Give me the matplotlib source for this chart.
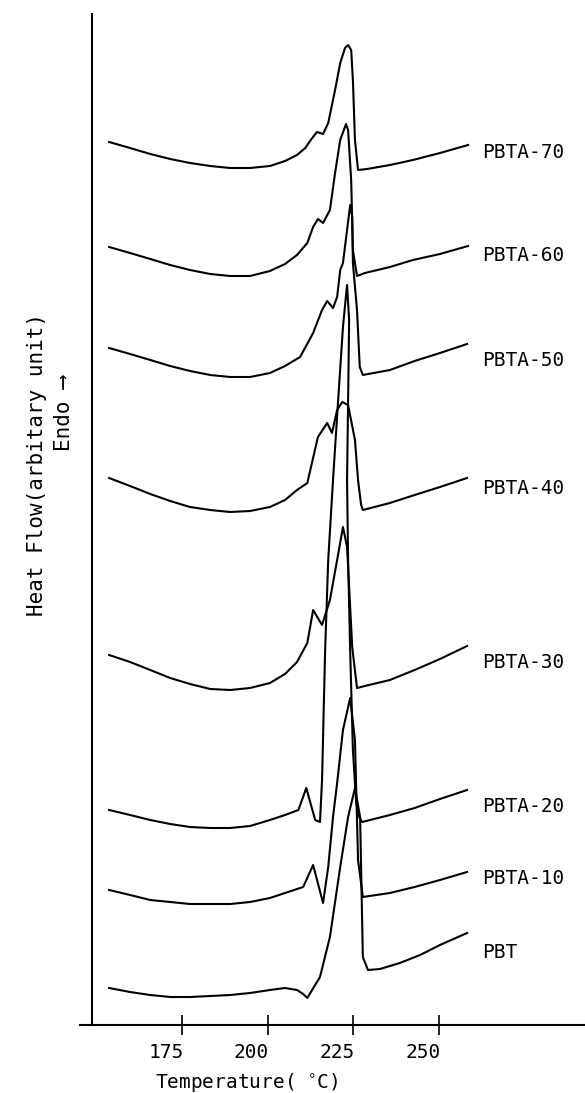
import matplotlib
matplotlib.use("Agg")
import matplotlib.pyplot as plt
import matplotlib.transforms as mtransforms

FONT = ['DejaVu Sans Mono', 'DejaVu Sans']
plt.rcParams['font.family'] = FONT

# ---- data (temperature in deg C, heat flow in arbitrary units, stacked) ----
names = ["PBTA-70", "PBTA-60", "PBTA-50", "PBTA-40", "PBTA-30", "PBTA-20", "PBTA-10", "PBT"]

t_70 = [153.8, 159.9, 165.8, 171.6, 177.4, 183.3, 189.1, 194.9, 200.7, 205.1, 208.6, 211.0, 212.4, 214.4, 216.2, 217.7, 219.7, 221.2, 222.6, 223.5, 224.4, 224.9, 225.5, 226.4, 229.0, 235.7, 242.4, 250.3, 258.5]
h_70 = [88.3, 87.7, 87.1, 86.6, 86.2, 85.9, 85.7, 85.7, 85.9, 86.4, 87.0, 87.7, 88.4, 89.3, 89.1, 90.2, 93.5, 96.2, 97.7, 98.0, 97.5, 94.5, 88.5, 85.5, 85.6, 86.0, 86.5, 87.2, 88.0]

t_60 = [153.8, 159.9, 165.8, 171.6, 177.4, 183.3, 189.1, 194.9, 200.7, 205.1, 208.6, 211.6, 213.3, 214.7, 216.2, 218.2, 219.7, 221.2, 222.9, 223.5, 224.4, 224.9, 226.1, 228.4, 235.7, 242.4, 250.3, 258.5]
h_60 = [77.8, 77.2, 76.6, 76.0, 75.5, 75.1, 74.9, 74.9, 75.4, 76.1, 77.0, 78.2, 79.8, 80.6, 80.2, 81.5, 85.2, 88.5, 90.1, 89.5, 84.5, 77.5, 74.9, 75.2, 75.8, 76.5, 77.1, 77.9]

t_50 = [153.8, 159.9, 165.8, 171.6, 177.4, 183.3, 189.1, 194.9, 200.7, 205.1, 209.5, 213.3, 215.9, 217.4, 219.1, 220.3, 221.2, 222.0, 223.2, 224.1, 224.7, 224.9, 226.1, 226.9, 227.8, 235.7, 242.9, 250.3, 258.2]
h_50 = [67.7, 67.1, 66.5, 65.9, 65.4, 65.0, 64.8, 64.8, 65.2, 65.9, 66.8, 69.2, 71.5, 72.4, 71.7, 72.8, 75.5, 76.2, 79.5, 82.0, 80.8, 76.2, 71.5, 65.8, 65.0, 65.5, 66.4, 67.2, 68.1]

t_40 = [153.8, 159.9, 165.8, 171.6, 177.4, 183.3, 189.1, 194.9, 200.7, 205.1, 208.6, 211.6, 214.7, 217.4, 218.8, 220.3, 221.8, 223.5, 225.5, 226.4, 227.3, 227.8, 235.7, 242.9, 250.3, 258.2]
h_40 = [54.7, 53.9, 53.1, 52.4, 51.8, 51.5, 51.3, 51.4, 51.8, 52.5, 53.5, 54.2, 58.8, 60.2, 59.2, 61.5, 62.3, 62.0, 58.5, 54.5, 52.0, 51.5, 52.2, 53.0, 53.8, 54.7]

t_30 = [153.8, 159.9, 165.8, 171.6, 177.4, 183.3, 189.1, 194.9, 200.7, 205.1, 208.6, 211.6, 213.3, 215.9, 218.2, 220.3, 222.0, 223.2, 224.7, 226.1, 228.4, 235.7, 242.9, 250.3, 258.2]
h_30 = [37.0, 36.3, 35.5, 34.7, 34.1, 33.6, 33.5, 33.7, 34.2, 35.1, 36.3, 38.2, 41.5, 40.0, 42.5, 46.5, 49.8, 47.8, 37.8, 33.7, 33.9, 34.5, 35.5, 36.6, 37.9]

t_20 = [153.8, 159.9, 165.8, 171.6, 177.4, 183.3, 189.1, 194.9, 200.7, 205.1, 209.0, 211.3, 213.9, 215.3,
        215.9, 216.8, 217.7, 219.1, 220.6, 222.0, 222.9, 223.2, 223.8, 223.5, 223.2, 223.5, 224.1, 224.9, 225.8, 226.4, 227.6,
        235.7, 242.9, 250.3, 258.2]
h_20 = [21.5, 21.0, 20.5, 20.1, 19.8, 19.7, 19.7, 19.9, 20.5, 21.0, 21.5, 23.7, 20.5, 20.3,
        24.5, 37.5, 46.5, 54.5, 62.5, 69.8, 73.0, 74.0, 70.5, 62.5, 54.5, 46.5, 37.5, 27.5, 22.5, 21.0, 20.3,
        21.0, 21.7, 22.6, 23.5]

t_10 = [153.8, 159.9, 165.8, 171.6, 177.4, 183.3, 189.1, 194.9, 200.7, 205.1, 210.4, 213.3, 216.2, 217.7, 219.1, 220.3, 222.0, 224.1, 225.5, 226.4, 227.8, 235.7, 242.9, 250.3, 258.2]
h_10 = [13.5, 13.0, 12.5, 12.3, 12.1, 12.1, 12.1, 12.3, 12.7, 13.2, 13.8, 16.0, 12.2, 15.8, 20.8, 24.2, 29.5, 32.7, 28.5, 16.5, 12.8, 13.2, 13.8, 14.5, 15.3]

t_0 = [153.8, 159.9, 165.8, 171.6, 177.4, 183.3, 189.1, 194.9, 200.7, 205.1, 208.6, 210.4, 211.6, 213.0, 215.3, 218.2, 221.2, 223.5, 225.5, 227.0, 227.8, 229.3, 232.8, 238.6, 244.5, 250.3, 258.2]
h_0 = [3.7, 3.3, 3.0, 2.8, 2.8, 2.9, 3.0, 3.2, 3.5, 3.7, 3.5, 3.1, 2.7, 3.5, 4.8, 8.8, 15.8, 20.8, 23.7, 20.8, 6.8, 5.5, 5.6, 6.2, 7.0, 8.0, 9.2]

label_h = [87.2, 76.9, 66.4, 53.6, 36.2, 21.9, 14.6, 7.2]
label_t = 262.5

xticks = [175, 200, 225, 250]
xlabel = "Temperature( $^{\\circ}$C)"
ylabel = "Heat Flow(arbitary unit)"
endo = "Endo \u27f6"

series_t = [t_70, t_60, t_50, t_40, t_30, t_20, t_10, t_0]
series_h = [h_70, h_60, h_50, h_40, h_30, h_20, h_10, h_0]

# ---- figure ----
W, H = 585, 1093
fig = plt.figure(figsize=(W / 100, H / 100), dpi=100)
ax = fig.add_axes([80 / W, (H - 1025) / H, 505 / W, (1025 - 14) / H])

for t, h in zip(series_t, series_h):
    ax.plot(t, h, color="black", lw=1.5, solid_joinstyle="round")

for name, yl in zip(names, label_h):
    ax.text(label_t, yl, name, fontsize=14, ha="left", va="center")

ax.set_xlim(145.3, 292.6)
ax.set_ylim(0, 101.1)

ax.spines["top"].set_visible(False)
ax.spines["right"].set_visible(False)
ax.spines["left"].set_position(("data", 148.8))
ax.spines["left"].set_linewidth(1.5)
ax.spines["bottom"].set_linewidth(1.5)

ax.set_yticks([])
ax.set_xticks(xticks)
ax.set_xticklabels([str(v) for v in xticks], fontsize=14)
ax.tick_params(axis="x", direction="inout", length=14, width=1.2, pad=6)
offset = mtransforms.ScaledTranslation(-16 / 100, 0, fig.dpi_scale_trans)
for lbl in ax.get_xticklabels():
    lbl.set_transform(lbl.get_transform() + offset)

fig.text(247 / W, 1 - 1083 / H, xlabel, fontsize=14, ha="center", va="center")
fig.text(37 / W, 1 - 465 / H, ylabel, fontsize=15, ha="center", va="center", rotation=90)
fig.text(64 / W, 1 - 413 / H, endo, fontsize=15, ha="center", va="center", rotation=90,
         family=FONT)

fig.savefig("out.png", dpi=100)
